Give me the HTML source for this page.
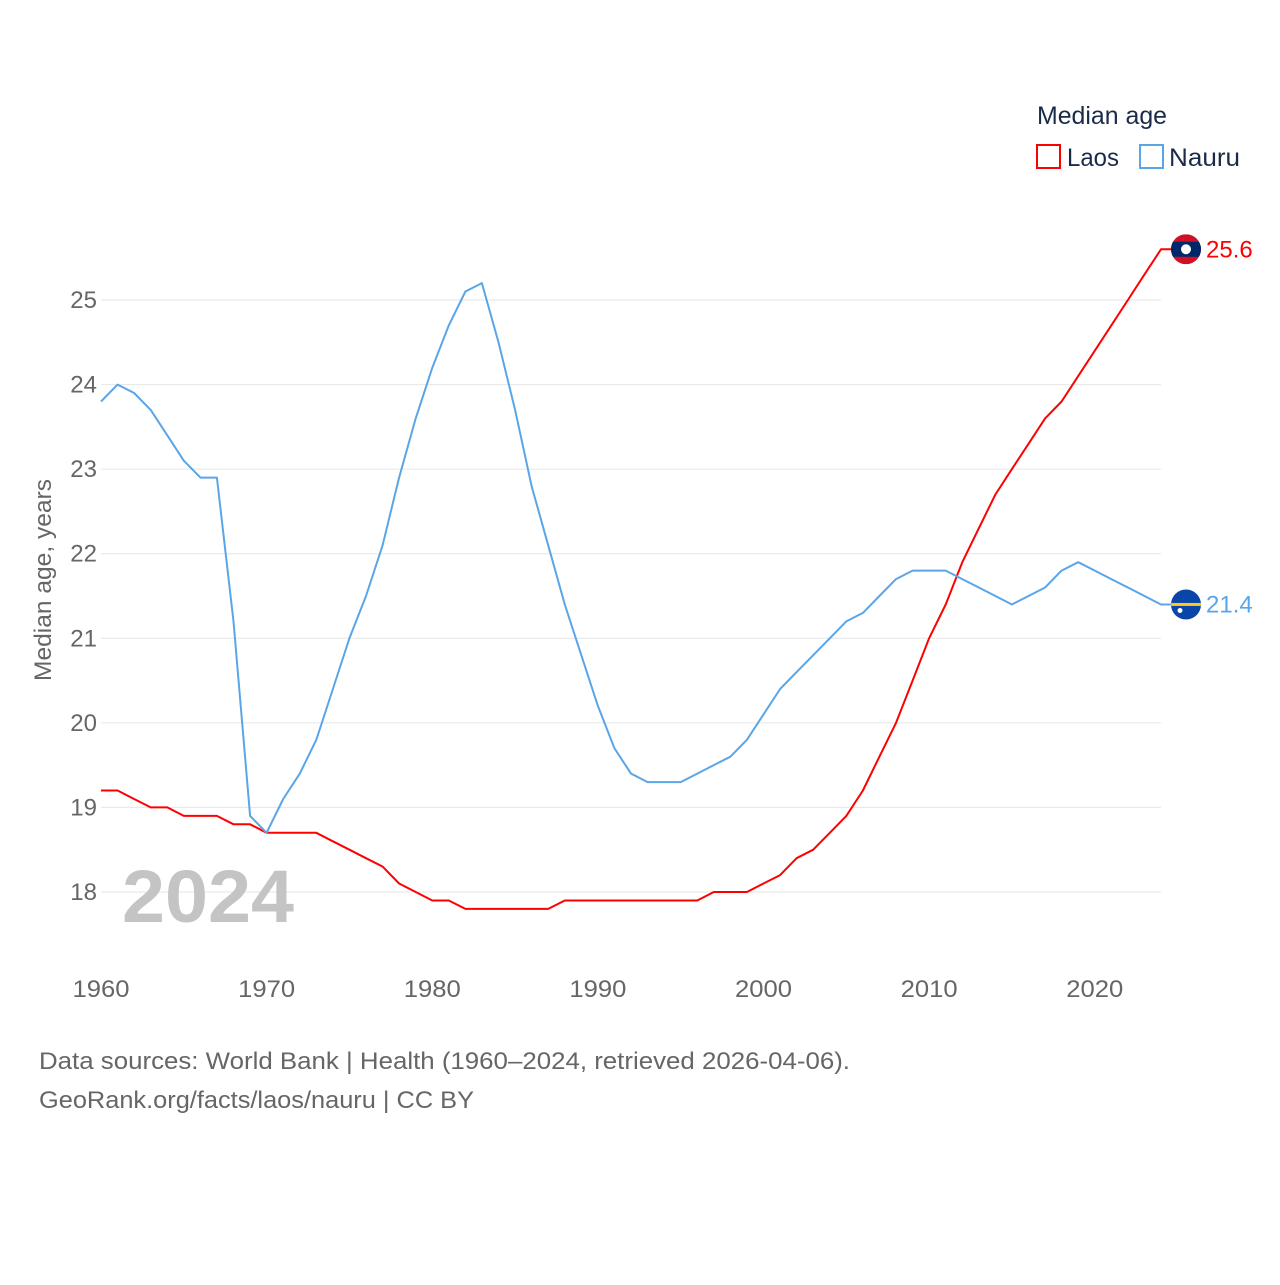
<!DOCTYPE html>
<html><head><meta charset="utf-8"><style>
body{margin:0;background:#fff;font-family:"Liberation Sans",sans-serif}
svg text{font-family:"Liberation Sans",sans-serif}
</style></head><body>
<svg id="chart" width="1280" height="1280" xmlns="http://www.w3.org/2000/svg">
<g id="grid"></g><g id="yticks"></g><g id="xticks"></g>
<text transform="translate(51,580) rotate(-90)" text-anchor="middle" font-size="24" fill="#666" textLength="202" lengthAdjust="spacingAndGlyphs">Median age, years</text>
<text x="122" y="922" font-size="74" font-weight="bold" fill="#c4c4c4" textLength="172" lengthAdjust="spacingAndGlyphs">2024</text>
<g id="lines"></g>
<g>
<text x="1037" y="124" font-size="25" fill="#1a2b4a" textLength="130" lengthAdjust="spacingAndGlyphs">Median age</text>
<rect x="1037" y="145" width="23" height="23" fill="none" stroke="#ff0000" stroke-width="2"/>
<text x="1067" y="166" font-size="25" fill="#1a2b4a" textLength="52" lengthAdjust="spacingAndGlyphs">Laos</text>
<rect x="1140" y="145" width="23" height="23" fill="none" stroke="#5aa5e8" stroke-width="2"/>
<text x="1169" y="166" font-size="25" fill="#1a2b4a" textLength="71" lengthAdjust="spacingAndGlyphs">Nauru</text>
</g>
<text x="39" y="1069" font-size="24" fill="#666" textLength="811" lengthAdjust="spacingAndGlyphs">Data sources: World Bank | Health (1960–2024, retrieved 2026-04-06).</text>
<text x="39" y="1108" font-size="24" fill="#666" textLength="435" lengthAdjust="spacingAndGlyphs">GeoRank.org/facts/laos/nauru | CC BY</text>
</svg>
<script>
const years=[];for(let y=1960;y<=2024;y++)years.push(y);
const laos=[19.2,19.2,19.1,19.0,19.0,18.9,18.9,18.9,18.8,18.8,18.7,18.7,18.7,18.7,18.6,18.5,18.4,18.3,18.1,18.0,17.9,17.9,17.8,17.8,17.8,17.8,17.8,17.8,17.9,17.9,17.9,17.9,17.9,17.9,17.9,17.9,17.9,18.0,18.0,18.0,18.1,18.2,18.4,18.5,18.7,18.9,19.2,19.6,20.0,20.5,21.0,21.4,21.9,22.3,22.7,23.0,23.3,23.6,23.8,24.1,24.4,24.7,25.0,25.3,25.6];
const nauru=[23.8,24.0,23.9,23.7,23.4,23.1,22.9,22.9,21.2,18.9,18.7,19.1,19.4,19.8,20.4,21.0,21.5,22.1,22.9,23.6,24.2,24.7,25.1,25.2,24.5,23.7,22.8,22.1,21.4,20.8,20.2,19.7,19.4,19.3,19.3,19.3,19.4,19.5,19.6,19.8,20.1,20.4,20.6,20.8,21.0,21.2,21.3,21.5,21.7,21.8,21.8,21.8,21.7,21.6,21.5,21.4,21.5,21.6,21.8,21.9,21.8,21.7,21.6,21.5,21.4];
const yTicks=[18,19,20,21,22,23,24,25];
const xTicks=[1960,1970,1980,1990,2000,2010,2020];
const X=y=>101+(y-1960)*(1060/64);
const Y=v=>892-(v-18)*(592/7);
const NS="http://www.w3.org/2000/svg";
function mk(t,a,p){const e=document.createElementNS(NS,t);for(const k in a)e.setAttribute(k,a[k]);p.appendChild(e);return e;}
const grid=document.getElementById('grid'),yt=document.getElementById('yticks'),xt=document.getElementById('xticks'),lines=document.getElementById('lines');
yTicks.forEach(v=>{
 const l=mk('line',{x1:101,x2:1161,y1:Y(v),y2:Y(v),stroke:'#e6e6e6','stroke-width':1},grid);
 
 
 const t=mk('text',{x:97,y:Y(v)+8,'text-anchor':'end','font-size':24,fill:'#666'},yt);t.textContent=v;
 
 
});
xTicks.forEach(v=>{
 const t=mk('text',{x:X(v),y:997,'text-anchor':'middle','font-size':24,fill:'#666',textLength:57,lengthAdjust:'spacingAndGlyphs'},xt);t.textContent=v;
 
 
});
function series(vals,color,name){
 const d=vals.map((v,i)=>(i?'L':'M')+X(years[i]).toFixed(1)+','+Y(v).toFixed(1)).join('')+'L1186,'+Y(vals[vals.length-1]).toFixed(1);
 const p=mk('path',{d,fill:'none',stroke:color,'stroke-width':2,'stroke-linejoin':'round'},lines);
 
 
 const last=vals[vals.length-1];
 const t=mk('text',{x:1206,y:Y(last)+8,'font-size':24,fill:color},lines);t.textContent=last.toFixed(1);
 
 
 return Y(last);
}
const ly=series(laos,'#ff0000','laos');
const ny=series(nauru,'#5aa5e8','nauru');
const fl=mk('g',{},lines);


const cp1=mk('clipPath',{id:'c1'},fl);mk('circle',{cx:1186,cy:ly,r:15},cp1);
mk('rect',{x:1171,y:ly-15,width:30,height:30,fill:'#ce1126','clip-path':'url(#c1)'},fl);
mk('rect',{x:1171,y:ly-7.5,width:30,height:15,fill:'#002868','clip-path':'url(#c1)'},fl);
mk('circle',{cx:1186,cy:ly,r:5,fill:'#fff'},fl);
const fn=mk('g',{},lines);


const cp=mk('clipPath',{id:'c2'},fn);mk('circle',{cx:1186,cy:ny,r:15},cp);
mk('rect',{x:1171,y:ny-15,width:30,height:30,fill:'#0a45a8','clip-path':'url(#c2)'},fn);
mk('rect',{x:1171,y:ny-1.5,width:30,height:3,fill:'#ffc61e','clip-path':'url(#c2)'},fn);
mk('circle',{cx:1180,cy:ny+6,r:2.5,fill:'#fff'},fn);
</script>
</body></html>
